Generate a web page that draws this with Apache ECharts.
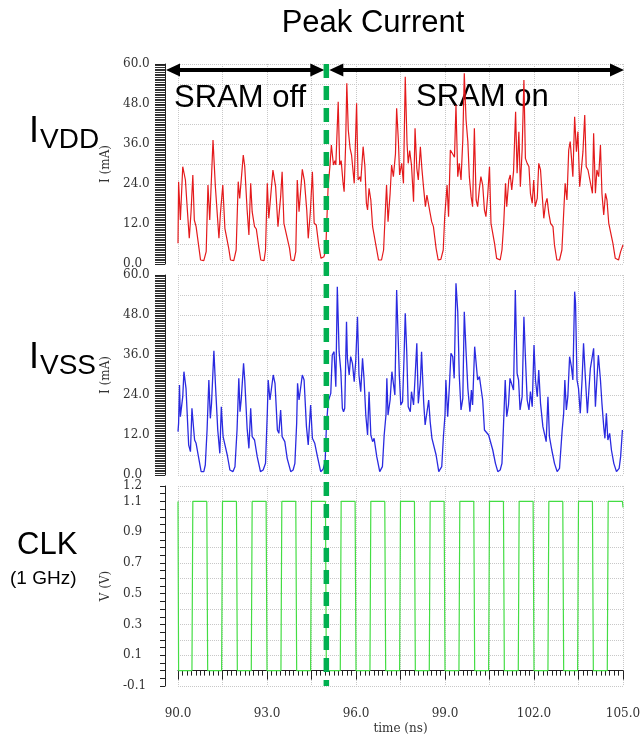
<!DOCTYPE html>
<html>
<head>
<meta charset="utf-8">
<script src="https://cdn.jsdelivr.net/npm/echarts@6/dist/echarts.min.js"></script>
<style>
  html, body { margin: 0; padding: 0; background: #fff; }
  #main { width: 644px; height: 736px; }
</style>
</head>
<body>
<div id="main"></div>
<script>
// I_VDD (mA), [time ns, current]
var ivdd = [
  [90.00,6.2],[90.02,24.7],[90.08,13.2],[90.16,29.2],[90.25,25.2],[90.30,18.2],[90.38,7.7],[90.44,15.7],[90.50,26.7],[90.55,13.2],[90.61,11.2],[90.70,5.2],[90.76,1.2],[90.87,1.0],[90.95,3.7],
  [91.01,23.7],[91.07,13.2],[91.18,37.2],[91.26,23.2],[91.38,7.7],[91.43,15.2],[91.51,23.7],[91.58,10.7],[91.62,11.2],[91.71,4.7],[91.77,1.2],[91.88,1.0],[91.96,4.2],
  [92.03,24.7],[92.08,19.7],[92.20,32.7],[92.25,29.2],[92.33,16.2],[92.39,8.7],[92.45,24.2],[92.50,15.7],[92.58,11.2],[92.64,10.5],[92.73,4.7],[92.79,1.2],[92.90,1.0],[92.95,4.2],
  [93.01,24.2],[93.06,13.7],[93.20,28.2],[93.29,23.2],[93.37,11.2],[93.46,20.2],[93.51,27.7],[93.57,12.2],[93.63,11.7],[93.76,4.7],[93.81,1.2],[93.91,1.0],[93.97,3.7],
  [94.02,25.2],[94.08,15.7],[94.19,28.4],[94.26,25.0],[94.34,16.2],[94.39,7.7],[94.46,15.5],[94.53,27.7],[94.59,12.2],[94.66,11.7],[94.75,5.2],[94.82,1.7],[94.92,2.2],[94.98,4.2],
  [95.06,23.2],[95.12,29.2],[95.17,35.7],[95.24,29.7],[95.29,31.0],[95.32,29.7],[95.40,48.7],[95.45,29.7],[95.50,31.0],[95.56,24.7],[95.60,21.7],[95.65,35.7],[95.69,54.2],[95.74,40.2],[95.80,34.7],[95.85,32.7],[95.94,24.2],
  [96.02,48.2],[96.07,25.2],[96.13,26.2],[96.16,24.7],[96.24,35.2],[96.30,29.2],[96.35,18.2],[96.39,16.2],[96.44,22.7],[96.50,19.2],[96.56,11.2],[96.61,10.7],[96.69,4.7],[96.76,1.2],[96.86,1.2],[96.93,4.2],[96.98,14.2],
  [97.03,23.7],[97.08,12.7],[97.15,21.2],[97.20,29.7],[97.26,26.2],[97.33,33.0],[97.37,46.7],[97.43,36.7],[97.47,26.7],[97.54,30.2],[97.60,24.2],[97.66,56.2],[97.72,36.2],[97.76,30.2],[97.81,34.0],[97.87,29.7],[97.94,18.7],[97.99,40.7],
  [98.05,28.7],[98.10,25.2],[98.17,35.2],[98.22,28.7],[98.28,22.7],[98.34,17.2],[98.39,20.7],[98.45,20.2],[98.50,15.2],[98.55,12.7],[98.61,11.2],[98.70,4.7],[98.77,1.2],[98.86,1.4],[98.94,4.2],[98.99,14.2],
  [99.07,23.7],[99.12,14.2],[99.18,34.2],[99.26,33.0],[99.32,32.0],[99.37,47.7],[99.43,26.2],[99.48,30.2],[99.54,25.2],[99.60,37.2],[99.65,57.2],[99.71,43.2],[99.77,36.7],[99.82,26.2],[99.88,20.2],[99.93,17.2],[99.99,40.7],
  [100.05,19.2],[100.10,17.2],[100.16,22.7],[100.21,26.2],[100.27,23.7],[100.33,16.2],[100.38,14.2],[100.44,20.7],[100.50,29.2],[100.55,12.2],[100.61,12.2],[100.67,6.2],[100.74,1.7],[100.86,1.2],[100.92,4.2],[100.98,12.2],
  [101.04,24.2],[101.08,17.2],[101.15,25.2],[101.20,26.7],[101.25,22.2],[101.31,27.7],[101.38,45.7],[101.43,27.2],[101.49,39.7],[101.54,23.2],[101.60,34.2],[101.66,55.2],[101.71,31.7],[101.77,30.2],[101.83,29.2],[101.88,21.2],[101.94,18.2],[101.99,25.2],
  [102.04,17.2],[102.11,19.7],[102.16,30.2],[102.22,28.2],[102.28,20.2],[102.33,13.7],[102.39,18.2],[102.44,19.7],[102.50,15.2],[102.56,12.2],[102.64,11.2],[102.69,5.7],[102.77,1.2],[102.86,1.2],[102.94,4.2],
  [103.00,15.2],[103.05,24.2],[103.11,19.2],[103.17,34.2],[103.22,36.7],[103.26,32.2],[103.31,26.2],[103.37,44.2],[103.43,33.7],[103.48,39.7],[103.54,23.2],[103.59,27.7],[103.65,33.7],[103.71,44.7],[103.76,29.2],[103.82,28.2],[103.88,28.7],[103.97,21.2],
  [104.01,39.2],[104.07,21.2],[104.12,28.2],[104.18,26.2],[104.24,35.7],[104.29,21.2],[104.35,14.7],[104.41,21.2],[104.46,19.2],[104.52,12.2],[104.57,12.2],[104.66,6.2],[104.74,1.7],[104.85,1.2],[104.92,3.7],[105.00,5.7]
];

// I_VSS (mA)
var ivss = [
  [90.00,13.0],[90.02,15.5],[90.05,27.0],[90.08,17.5],[90.11,18.0],[90.16,23.5],[90.20,31.0],[90.27,26.0],[90.33,14.5],[90.36,9.0],[90.42,7.0],[90.47,20.0],[90.53,13.5],[90.56,10.5],[90.61,9.5],[90.70,5.0],[90.78,1.0],[90.87,1.0],[90.92,3.0],[90.98,13.5],
  [91.04,28.5],[91.09,17.0],[91.13,21.5],[91.21,37.3],[91.26,27.5],[91.34,13.5],[91.41,6.5],[91.46,20.5],[91.52,11.5],[91.58,11.0],[91.66,6.0],[91.75,1.5],[91.85,1.0],[91.92,2.5],[91.99,13.5],
  [92.05,29.0],[92.09,19.0],[92.13,22.5],[92.21,33.5],[92.25,28.5],[92.33,14.0],[92.39,8.0],[92.45,20.0],[92.50,11.5],[92.58,10.5],[92.67,5.5],[92.78,1.0],[92.87,1.5],[92.95,3.5],
  [93.01,18.5],[93.04,28.5],[93.10,22.5],[93.15,22.5],[93.21,30.0],[93.27,27.5],[93.35,13.5],[93.40,12.5],[93.46,19.5],[93.51,11.5],[93.60,10.0],[93.68,5.0],[93.80,1.0],[93.88,1.5],[93.94,3.5],
  [94.00,15.5],[94.03,27.5],[94.08,22.5],[94.13,23.0],[94.19,30.0],[94.25,28.5],[94.33,14.5],[94.39,9.0],[94.47,21.0],[94.53,11.0],[94.61,9.5],[94.70,5.5],[94.81,1.0],[94.89,1.7],[94.96,4.0],
  [95.00,14.0],[95.06,22.0],[95.15,24.5],[95.20,36.0],[95.26,37.0],[95.32,26.5],[95.37,56.5],[95.43,37.0],[95.49,31.0],[95.54,20.0],[95.58,19.0],[95.62,20.0],[95.68,46.0],[95.71,35.0],[95.77,30.0],[95.82,35.5],[95.88,33.5],[95.94,28.0],[95.99,34.0],
  [96.05,47.5],[96.10,30.0],[96.16,25.0],[96.22,35.0],[96.27,29.0],[96.33,18.0],[96.39,12.0],[96.44,25.0],[96.50,12.0],[96.56,10.0],[96.61,11.0],[96.70,5.5],[96.80,1.0],[96.89,2.5],[96.95,12.0],
  [97.01,18.0],[97.04,29.0],[97.08,18.0],[97.15,22.5],[97.21,31.0],[97.26,31.0],[97.31,24.0],[97.37,55.5],[97.42,41.5],[97.46,30.0],[97.51,21.0],[97.57,22.0],[97.62,35.5],[97.66,48.5],[97.71,37.0],[97.76,20.5],[97.83,19.0],[97.87,25.0],[97.94,21.0],[97.99,29.0],
  [98.05,39.5],[98.10,21.5],[98.17,28.0],[98.21,37.0],[98.28,22.0],[98.33,15.0],[98.39,14.5],[98.45,22.5],[98.50,16.0],[98.56,11.0],[98.62,10.5],[98.70,6.0],[98.79,1.0],[98.89,2.5],[98.95,12.0],
  [99.00,18.0],[99.03,28.5],[99.09,17.5],[99.15,27.0],[99.20,36.5],[99.26,35.5],[99.31,29.0],[99.37,57.5],[99.43,49.0],[99.48,30.0],[99.54,19.5],[99.60,23.0],[99.65,49.0],[99.71,37.0],[99.77,26.0],[99.84,19.0],[99.89,25.5],[99.93,21.0],[100.00,38.5],
  [100.10,28.5],[100.16,29.5],[100.21,30.0],[100.27,22.5],[100.33,13.5],[100.38,14.0],[100.47,12.0],[100.53,12.5],[100.61,7.5],[100.70,3.5],[100.78,1.0],[100.86,1.5],[100.92,3.5],[100.97,14.5],
  [101.03,28.5],[101.08,17.5],[101.14,21.0],[101.19,29.0],[101.25,29.5],[101.31,25.5],[101.37,55.5],[101.43,30.5],[101.48,28.5],[101.53,19.5],[101.60,23.5],[101.66,47.5],[101.71,35.5],[101.77,22.5],[101.83,19.5],[101.88,25.0],[101.94,20.5],
  [102.00,39.0],[102.05,28.5],[102.11,23.5],[102.16,31.5],[102.22,21.5],[102.30,14.5],[102.35,12.5],[102.41,10.0],[102.47,23.5],[102.52,11.5],[102.60,7.5],[102.69,3.5],[102.78,1.0],[102.86,2.0],[102.95,13.5],
  [103.00,18.5],[103.04,28.5],[103.09,19.5],[103.14,23.5],[103.20,35.5],[103.26,32.5],[103.31,28.5],[103.37,55.0],[103.40,51.5],[103.45,28.5],[103.50,26.0],[103.56,18.5],[103.62,28.5],[103.67,39.5],[103.73,29.5],[103.80,18.5],[103.85,25.5],[103.90,32.0],[103.95,32.5],
  [104.01,38.0],[104.07,20.5],[104.12,28.5],[104.17,36.0],[104.24,28.5],[104.29,21.5],[104.35,14.5],[104.39,11.0],[104.44,18.5],[104.49,10.5],[104.55,12.5],[104.61,7.5],[104.69,3.5],[104.78,1.0],[104.87,2.0],[104.92,5.5],[104.98,13.5]
];

// CLK (V), 1 GHz
var clk = [
  [90.00,1.1],[90.02,0],[90.47,0],[90.50,1.1],[90.97,1.1],[91.00,0],[91.47,0],[91.50,1.1],
  [91.97,1.1],[92.00,0],[92.47,0],[92.50,1.1],[92.97,1.1],[93.00,0],[93.47,0],[93.50,1.1],
  [93.97,1.1],[94.00,0],[94.47,0],[94.50,1.1],[94.97,1.1],[95.00,0],[95.47,0],[95.50,1.1],
  [95.97,1.1],[96.00,0],[96.47,0],[96.50,1.1],[96.97,1.1],[97.00,0],[97.47,0],[97.50,1.1],
  [97.97,1.1],[98.00,0],[98.47,0],[98.50,1.1],[98.97,1.1],[99.00,0],[99.47,0],[99.50,1.1],
  [99.97,1.1],[100.00,0],[100.47,0],[100.50,1.1],[100.97,1.1],[101.00,0],[101.47,0],[101.50,1.1],
  [101.97,1.1],[102.00,0],[102.47,0],[102.50,1.1],[102.97,1.1],[103.00,0],[103.47,0],[103.50,1.1],
  [103.97,1.1],[104.00,0],[104.47,0],[104.50,1.1],[104.98,1.1],[105.00,1.06]
];

var sramSwitch = 95.0;   // ns
var clkLabels = [-0.1, 0.1, 0.3, 0.5, 0.7, 0.9, 1.1, 1.2];

var serif = 'DejaVu Serif';
var sans = 'Liberation Sans';
var gridLine = { show: true, lineStyle: { type: 'dotted', color: '#c8c8c8', width: 1 } };

function timeAxis(idx, showLabels) {
    return {
        type: 'value', gridIndex: idx, min: 90, max: 105, interval: 1.5,
        offset: showLabels ? 7 : 0,
        name: showLabels ? 'time (ns)' : '',
        nameLocation: 'middle', nameGap: 30,
        nameTextStyle: { fontFamily: serif, fontSize: 12, color: '#333' },
        axisLine: { show: showLabels, lineStyle: { color: '#222', width: 1 } },
        axisTick: { show: showLabels, length: 9, lineStyle: { color: '#222' } },
        minorTick: { show: showLabels, splitNumber: 10, length: 5, lineStyle: { color: '#222' } },
        axisLabel: {
            show: showLabels, margin: 15, fontFamily: serif, fontSize: 12, color: '#333',
            formatter: function (v) { return Math.abs(v % 3) < 1e-6 ? v.toFixed(1) : ''; }
        },
        splitLine: gridLine
    };
}

function currentAxis(idx) {
    return {
        type: 'value', gridIndex: idx, min: 0, max: 60, interval: 6, offset: 13,
        name: 'I (mA)', nameLocation: 'middle', nameGap: 48,
        nameTextStyle: { fontFamily: serif, fontSize: 12, color: '#333' },
        axisLine: { show: true, lineStyle: { color: '#222', width: 1 } },
        axisTick: { show: true, length: 10, lineStyle: { color: '#222' } },
        minorTick: { show: true, splitNumber: 12, length: 10, lineStyle: { color: '#333' } },
        axisLabel: {
            margin: 42, align: 'left', fontFamily: serif, fontSize: 12, color: '#333',
            formatter: function (v) { return v % 12 === 0 ? v.toFixed(1) : ''; }
        },
        splitLine: gridLine
    };
}

var chart = echarts.init(document.getElementById('main'));

var option = {
    backgroundColor: '#fff',
    animation: false,
    grid: [
        { left: 178, width: 445, top: 64, height: 200 },
        { left: 178, width: 445, top: 275, height: 200 },
        { left: 178, width: 445, top: 486, height: 202 }
    ],
    xAxis: [timeAxis(0, false), timeAxis(1, false), timeAxis(2, true)],
    yAxis: [
        currentAxis(0),
        currentAxis(1),
        {
            type: 'value', gridIndex: 2, min: -0.1, max: 1.2, interval: 0.1, offset: 13,
            name: 'V (V)', nameLocation: 'middle', nameGap: 48,
            nameTextStyle: { fontFamily: serif, fontSize: 12, color: '#333' },
            axisLine: { show: true, lineStyle: { color: '#222', width: 1 } },
            axisTick: { show: true, length: 5, lineStyle: { color: '#222' } },
            minorTick: { show: true, splitNumber: 2, length: 5, lineStyle: { color: '#222' } },
            axisLabel: {
                margin: 42, align: 'left', fontFamily: serif, fontSize: 12, color: '#333',
                formatter: function (v) {
                    var k = Math.round(v * 10);
                    for (var i = 0; i < clkLabels.length; i++) {
                        if (Math.round(clkLabels[i] * 10) === k) return v.toFixed(1);
                    }
                    return '';
                }
            },
            splitLine: gridLine
        }
    ],
    series: [
        {
            name: 'IVDD', type: 'line', xAxisIndex: 0, yAxisIndex: 0, data: ivdd,
            showSymbol: false, lineStyle: { color: '#e41a1c', width: 1.2 }
        },
        {
            name: 'IVSS', type: 'line', xAxisIndex: 1, yAxisIndex: 1, data: ivss,
            showSymbol: false, lineStyle: { color: '#2a2ae0', width: 1.3 }
        },
        {
            name: 'CLK', type: 'line', xAxisIndex: 2, yAxisIndex: 2, data: clk,
            showSymbol: false, lineStyle: { color: '#44dd44', width: 1.2 }
        }
    ]
};

chart.setOption(option);

// annotations placed from the axes
var xL = chart.convertToPixel({ xAxisIndex: 0 }, 90);
var xR = chart.convertToPixel({ xAxisIndex: 0 }, 105);
var xm = chart.convertToPixel({ xAxisIndex: 0 }, sramSwitch);
var yTop = chart.convertToPixel({ yAxisIndex: 0 }, 60);
var yBot = chart.convertToPixel({ yAxisIndex: 2 }, -0.1);
var ay = yTop + 6;

function arrow(x1, x2, y) {
    return [
        { type: 'line', z: 100, shape: { x1: x1 + 10, y1: y, x2: x2 - 10, y2: y }, style: { stroke: '#000', lineWidth: 4 } },
        { type: 'polygon', z: 100, shape: { points: [[x1, y], [x1 + 14, y - 6.5], [x1 + 14, y + 6.5]] }, style: { fill: '#000' } },
        { type: 'polygon', z: 100, shape: { points: [[x2, y], [x2 - 14, y - 6.5], [x2 - 14, y + 6.5]] }, style: { fill: '#000' } }
    ];
}

var big = { fontFamily: sans, fill: '#000' };
var graphics = [].concat(
    arrow(xL - 12, xm - 2, ay),
    arrow(xm + 3, xR + 1, ay),
    [
        { type: 'line', z: 110, shape: { x1: xm, y1: yTop, x2: xm, y2: yBot }, style: { stroke: '#00b050', lineWidth: 5.5, lineDash: [14, 8] } },
        { type: 'text', x: 373, y: 23, style: Object.assign({ text: 'Peak Current', fontSize: 31, align: 'center', verticalAlign: 'middle' }, big) },
        { type: 'text', x: 174, y: 98, style: Object.assign({ text: 'SRAM off', fontSize: 31, align: 'left', verticalAlign: 'middle' }, big) },
        { type: 'text', x: 416, y: 97, style: Object.assign({ text: 'SRAM on', fontSize: 31, align: 'left', verticalAlign: 'middle' }, big) },
        { type: 'text', x: 29, y: 150, style: Object.assign({ text: 'I', fontSize: 36, align: 'left', verticalAlign: 'bottom' }, big) },
        { type: 'text', x: 40, y: 154, style: Object.assign({ text: 'VDD', fontSize: 28, align: 'left', verticalAlign: 'bottom' }, big) },
        { type: 'text', x: 29, y: 376, style: Object.assign({ text: 'I', fontSize: 36, align: 'left', verticalAlign: 'bottom' }, big) },
        { type: 'text', x: 40, y: 380, style: Object.assign({ text: 'VSS', fontSize: 28, align: 'left', verticalAlign: 'bottom' }, big) },
        { type: 'text', x: 17, y: 545, style: Object.assign({ text: 'CLK', fontSize: 31, align: 'left', verticalAlign: 'middle' }, big) },
        { type: 'text', x: 10, y: 579, style: Object.assign({ text: '(1 GHz)', fontSize: 19, align: 'left', verticalAlign: 'middle' }, big) }
    ]
);

chart.setOption({ graphic: graphics });
</script>
</body>
</html>
